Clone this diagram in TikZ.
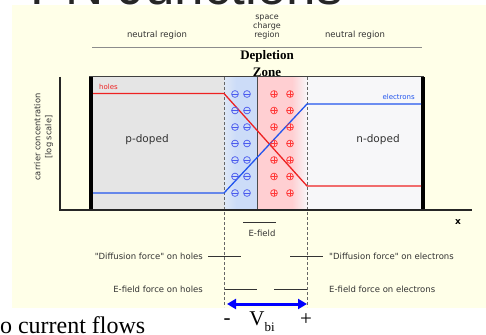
\documentclass[tikz,border=0pt]{standalone}
\usepackage{fontspec}
\setmainfont{Liberation Serif}
\newfontfamily\dv{DejaVu Sans}
\newfontfamily\ls{Liberation Sans}
\usetikzlibrary{arrows.meta}
\definecolor{bgy}{HTML}{FFFFE8}
\definecolor{pgray}{HTML}{E5E5E5}
\definecolor{ngray}{HTML}{F7F7F9}
\definecolor{dblue}{HTML}{CCDCF8}
\definecolor{dblueL}{HTML}{DFE8F6}
\definecolor{dred}{HTML}{FFCFD2}
\definecolor{holec}{HTML}{EE2222}
\definecolor{elecc}{HTML}{2255EE}
\definecolor{minc}{HTML}{4A5AEE}
\definecolor{plusc}{HTML}{FF3838}
\definecolor{txt}{HTML}{333333}
\begin{document}
\begin{tikzpicture}[x=1pt,y=-1pt,
  lab/.style={inner sep=0pt, text=txt, font=\dv\fontsize{8.5}{9}\selectfont},
  small/.style={inner sep=0pt, font=\dv\fontsize{7}{8}\selectfont},
  big/.style={inner sep=0pt, text=txt, font=\dv\fontsize{10.5}{12}\selectfont},
  force/.style={draw=txt, line width=0.9pt},
  dashline/.style={draw=black!60, line width=0.8pt, dash pattern=on 3pt off 2pt},
  curve/.style={line width=1.3pt},
  serifbig/.style={inner sep=0pt, font=\fontsize{21}{21}\selectfont}]
\useasboundingbox (0,0) rectangle (486,334);
% background
\fill[white] (0,0) rectangle (486,334);
\fill[bgy] (12,5.5) rectangle (486,308);
% title (clipped)
\begin{scope}
\clip (0,-60) rectangle (486,5.5);
\node[inner sep=0pt, anchor=base east, text=black!85, font=\ls\fontsize{53}{53}\selectfont] (title) at (343,4.5) {PN Junctions};
\end{scope}
% headers
\node[lab] (nl) at (157,35) {neutral region};
\node[lab, align=center, font=\dv\fontsize{8}{9}\selectfont] (scr) at (267,27) {space\\charge\\region};
\node[lab] (nr) at (355,35) {neutral region};
\draw[black!45, line width=1pt] (92,48) -- (422,48);
\node[inner sep=0pt, font=\bfseries\fontsize{13}{16.5}\selectfont, align=center] (dz) at (267,63.5) {Depletion\\Zone};
% regions
\fill[pgray] (93,77) rectangle (224,210);
\shade[left color=dblueL, right color=dblue] (224,77) rectangle (236,210);
\fill[dblue] (236,77) rectangle (257,210);
\fill[dred] (257,77) rectangle (292,210);
\shade[left color=dred, right color=ngray] (292,77) rectangle (307,210);
\fill[ngray] (307,77) rectangle (421,210);
\draw[black!75, line width=1pt] (89,77) -- (424,77);
\draw[black!70, line width=0.8pt] (257,77) -- (257,210);
\fill[black] (89,77) rectangle (93,210);
\fill[black] (421,77) rectangle (424.5,210);
% dashed boundaries
\draw[dashline] (224,77) -- (224,307);
\draw[dashline] (307,77) -- (307,307);
% axes
\draw[black!85, line width=1.2pt] (60,77) -- (60,210) -- (472,210);
\node[lab, rotate=90, align=center, font=\dv\fontsize{8.3}{11}\selectfont] (ylab) at (43.5,137) {carrier concentration\\{}[log scale]};
\node[inner sep=0pt, font=\dv\bfseries\fontsize{9}{9}\selectfont] (xlab) at (458,222) {x};
% carrier curves
\draw[curve, holec] (93,93.5) -- (224,93.5) -- (307,186) -- (421,186);
\draw[curve, elecc] (93,193) -- (224,193) -- (307,104) -- (421,104);
\node[small, text=holec, anchor=west] (holes) at (99,87) {holes};
\node[small, text=elecc, anchor=east] (elec) at (415,97) {electrons};
% fixed charges
\foreach \r in {0,...,6} {
  \foreach \cx in {235,247} {
    \draw[minc, line width=0.7pt] (\cx,94+16.5*\r) circle (3.4);
    \draw[minc, line width=0.7pt] (\cx-2.6,94+16.5*\r) -- (\cx+2.6,94+16.5*\r);
  }
  \foreach \cx in {274,290} {
    \draw[plusc, line width=0.7pt] (\cx,94+16.5*\r) circle (3.4);
    \draw[plusc, line width=0.7pt] (\cx-2.6,94+16.5*\r) -- (\cx+2.6,94+16.5*\r);
    \draw[plusc, line width=0.7pt] (\cx,94+16.5*\r-2.6) -- (\cx,94+16.5*\r+2.6);
  }
}
\node[big] (pd) at (147,140) {p-doped};
\node[big] (nd) at (378,140) {n-doped};
% E-field and forces
\draw[force] (243,222) -- (276,222);
\node[lab] (ef) at (262,233) {E-field};
\node[lab, anchor=east] (dh) at (203,256) {"Diffusion force" on holes};
\draw[force] (208,256) -- (241,256);
\draw[force] (290,256) -- (323,256);
\node[lab, anchor=west] (de) at (329,256) {"Diffusion force" on electrons};
\node[lab, anchor=east] (eh) at (203,289) {E-field force on holes};
\draw[force] (225,289) -- (257,289);
\draw[force] (274,289) -- (307,289);
\node[lab, anchor=west] (ee) at (329,289) {E-field force on electrons};
% built-in voltage
\coordinate (va) at (227,304);
\coordinate (vb) at (307,304);
\draw[blue, line width=3pt, {Triangle[length=9pt,width=10pt]}-{Triangle[length=9pt,width=10pt]}] (va) -- (vb);
\node[serifbig] (minus) at (227,322) {-};
\node[serifbig] (vbi) at (262,322) {V\raisebox{-0.3em}{\fontsize{13}{13}\selectfont bi}};
\node[serifbig] (plus) at (306,320) {+};
\node[inner sep=0pt, anchor=base west, font=\fontsize{24}{24}\selectfont] (ncf) at (-17.5,333) {No current flows};
\end{tikzpicture}
\end{document}
